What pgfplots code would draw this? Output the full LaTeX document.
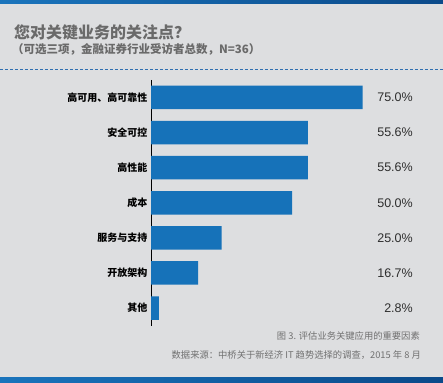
\documentclass[border=0pt]{standalone}
\usepackage{pgfplots}
\pgfplotsset{compat=1.18}
\usepackage{fontspec}
\setmainfont{Noto Sans CJK SC}
\newfontfamily\numfont{Liberation Sans}
\definecolor{bg}{HTML}{DDDEE0}
\definecolor{barblue}{HTML}{1672B9}
\definecolor{bandA}{HTML}{1A74BC}
\definecolor{bandB}{HTML}{0B4A8A}
\definecolor{dashblue}{HTML}{2F6FB0}
\definecolor{titlegray}{HTML}{6A6A6A}
\definecolor{footgray}{HTML}{707070}
\definecolor{valgray}{HTML}{2E2E2E}
\begin{document}
\begin{tikzpicture}
\useasboundingbox (0pt,0pt) rectangle (443pt,382pt);
\fill[bg] (0pt,0pt) rectangle (443pt,382pt);
\shade[left color=bandA,right color=bandB] (0pt,378pt) rectangle (443pt,382pt);
\shade[left color=bandA,right color=bandB] (0pt,0pt) rectangle (443pt,4.5pt);
\node[anchor=west,inner sep=0pt,text=titlegray,font=\fontsize{16}{16}\selectfont\bfseries] at (14pt,350pt) {您对关键业务的关注点？};
\node[anchor=west,inner sep=0pt,text=titlegray,font=\fontsize{11.5}{11.5}\selectfont\bfseries] at (12pt,333pt) {（可选三项，金融证券行业受访者总数，N=36）};
\draw[dashblue,dash pattern=on 3pt off 2pt,line width=0.6pt] (0pt,313pt) -- (443pt,313pt);
\node[anchor=east,inner sep=0pt,text=footgray,font=\fontsize{9.3}{9.3}\selectfont] at (420pt,46pt) {图 3. 评估业务关键应用的重要因素};
\node[anchor=east,inner sep=0pt,text=footgray,font=\fontsize{9.3}{9.3}\selectfont] at (421pt,27pt) {数据来源：中桥关于新经济 IT 趋势选择的调查，2015 年 8 月};
\begin{axis}[
  at={(151pt,56.45pt)}, anchor=south west,
  scale only axis, width=282.3pt, height=245.6pt,
  xmin=0, xmax=100, ymin=0.5, ymax=7.5, y dir=reverse,
  axis x line=none, axis y line*=left,
  y axis line style={-, black, line width=0.6pt},
  ytick={1,...,7},
  yticklabels={高可用、高可靠性,安全可控,高性能,成本,服务与支持,开放架构,其他},
  yticklabel style={font=\fontsize{10}{10}\selectfont\bfseries, text=black},
  major tick length=0pt,
  xbar, bar width=23.5pt, bar shift=0pt,
  clip=false,
]
\addplot[fill=barblue, draw=none] coordinates {
 (75.0,1) (55.6,2) (55.6,3) (50.0,4) (25.0,5) (16.7,6) (2.8,7)};
\foreach \v/\y in {75.0/1,55.6/2,55.6/3,50.0/4,25.0/5,16.7/6,2.8/7}{
  \edef\tmp{\noexpand\node[anchor=east,inner sep=0pt,text=valgray,font=\noexpand\numfont\noexpand\fontsize{12.5}{12.5}\noexpand\selectfont] at (axis cs:92.8,\y) {\v\noexpand\%};}
  \tmp
}
\end{axis}
\end{tikzpicture}
\end{document}
